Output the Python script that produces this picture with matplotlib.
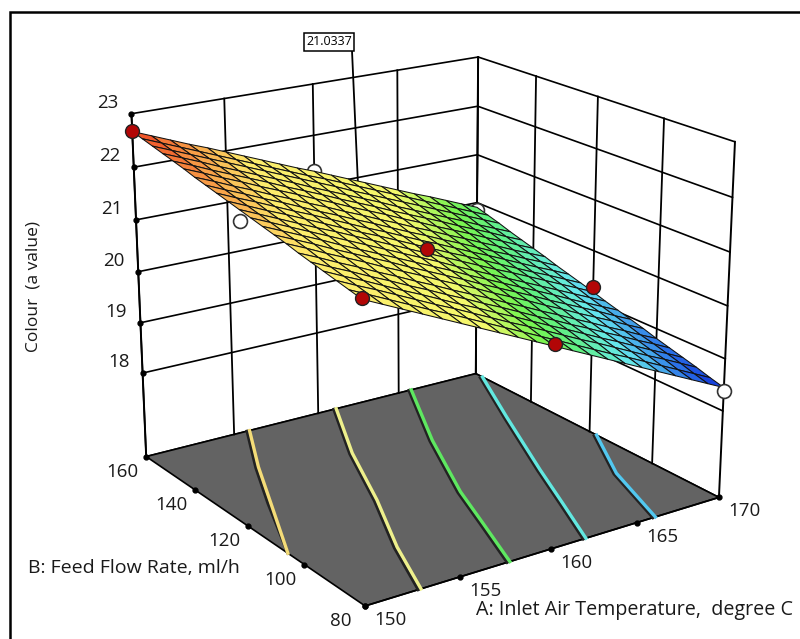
import numpy as np
import matplotlib
matplotlib.use('Agg')
import matplotlib.pyplot as plt
from matplotlib.colors import LinearSegmentedColormap, Normalize
from matplotlib.patches import Rectangle
from mpl_toolkits.mplot3d import proj3d

plt.rcParams['font.family'] = ['Open Sans', 'DejaVu Sans']

# axes ticks
temp_ticks = [150, 155, 160, 165, 170]
flow_ticks = [80, 100, 120, 140, 160]
colour_ticks = [18, 19, 20, 21, 22, 23]
floor_level = 16.306
top_level = 23

# surface grid
temp_grid = list(range(150, 171))
flow_grid = list(range(160, 79, -4))
colour_grid = [
    [22.67, 22.53, 22.39, 22.25, 22.12, 21.98, 21.84, 21.70, 21.56, 21.42, 21.29, 21.15, 21.01, 20.87, 20.73, 20.59, 20.45, 20.32, 20.18, 20.04, 19.90],
    [22.62, 22.48, 22.34, 22.20, 22.06, 21.92, 21.78, 21.64, 21.50, 21.36, 21.23, 21.09, 20.95, 20.81, 20.67, 20.53, 20.39, 20.25, 20.11, 19.97, 19.83],
    [22.57, 22.43, 22.29, 22.15, 22.01, 21.87, 21.73, 21.59, 21.45, 21.31, 21.17, 21.02, 20.88, 20.74, 20.60, 20.46, 20.32, 20.18, 20.04, 19.90, 19.76],
    [22.52, 22.38, 22.24, 22.09, 21.95, 21.81, 21.67, 21.53, 21.38, 21.24, 21.10, 20.96, 20.82, 20.67, 20.53, 20.39, 20.25, 20.11, 19.96, 19.82, 19.68],
    [22.47, 22.33, 22.18, 22.04, 21.90, 21.76, 21.61, 21.47, 21.33, 21.18, 21.04, 20.90, 20.75, 20.61, 20.47, 20.33, 20.18, 20.04, 19.90, 19.75, 19.61],
    [22.42, 22.28, 22.13, 21.99, 21.84, 21.70, 21.56, 21.41, 21.27, 21.12, 20.98, 20.84, 20.69, 20.55, 20.40, 20.26, 20.12, 19.97, 19.83, 19.68, 19.54],
    [22.36, 22.22, 22.07, 21.93, 21.78, 21.64, 21.49, 21.35, 21.20, 21.06, 20.91, 20.77, 20.62, 20.48, 20.33, 20.19, 20.04, 19.90, 19.75, 19.61, 19.47],
    [22.31, 22.16, 22.02, 21.87, 21.73, 21.58, 21.43, 21.29, 21.14, 21.00, 20.85, 20.70, 20.56, 20.41, 20.27, 20.12, 19.97, 19.83, 19.68, 19.54, 19.39],
    [22.26, 22.11, 21.97, 21.82, 21.67, 21.53, 21.38, 21.23, 21.08, 20.94, 20.79, 20.64, 20.50, 20.35, 20.20, 20.06, 19.91, 19.76, 19.61, 19.47, 19.32],
    [22.21, 22.06, 21.91, 21.77, 21.62, 21.47, 21.32, 21.17, 21.03, 20.88, 20.73, 20.58, 20.43, 20.29, 20.14, 19.99, 19.84, 19.69, 19.55, 19.40, 19.25],
    [22.16, 22.01, 21.86, 21.71, 21.56, 21.42, 21.27, 21.12, 20.97, 20.82, 20.67, 20.52, 20.37, 20.22, 20.07, 19.93, 19.78, 19.63, 19.48, 19.33, 19.18],
    [22.11, 21.96, 21.81, 21.66, 21.51, 21.36, 21.21, 21.06, 20.91, 20.76, 20.61, 20.45, 20.30, 20.15, 20.00, 19.85, 19.70, 19.55, 19.40, 19.25, 19.10],
    [22.06, 21.91, 21.76, 21.61, 21.45, 21.30, 21.15, 21.00, 20.85, 20.70, 20.55, 20.39, 20.24, 20.09, 19.94, 19.79, 19.64, 19.48, 19.33, 19.18, 19.03],
    [22.01, 21.86, 21.71, 21.55, 21.40, 21.25, 21.10, 20.94, 20.79, 20.64, 20.49, 20.33, 20.18, 20.03, 19.88, 19.72, 19.57, 19.42, 19.27, 19.11, 18.96],
    [21.96, 21.81, 21.65, 21.50, 21.35, 21.19, 21.04, 20.89, 20.73, 20.58, 20.43, 20.27, 20.12, 19.97, 19.81, 19.66, 19.50, 19.35, 19.20, 19.04, 18.89],
    [21.90, 21.75, 21.59, 21.44, 21.28, 21.13, 20.97, 20.82, 20.66, 20.51, 20.36, 20.20, 20.05, 19.89, 19.74, 19.58, 19.43, 19.27, 19.12, 18.96, 18.81],
    [21.85, 21.69, 21.54, 21.38, 21.23, 21.07, 20.92, 20.76, 20.61, 20.45, 20.30, 20.14, 19.98, 19.83, 19.67, 19.52, 19.36, 19.21, 19.05, 18.90, 18.74],
    [21.80, 21.64, 21.49, 21.33, 21.17, 21.02, 20.86, 20.70, 20.55, 20.39, 20.24, 20.08, 19.92, 19.77, 19.61, 19.45, 19.30, 19.14, 18.98, 18.83, 18.67],
    [21.75, 21.59, 21.44, 21.28, 21.12, 20.96, 20.81, 20.65, 20.49, 20.33, 20.18, 20.02, 19.86, 19.70, 19.55, 19.39, 19.23, 19.07, 18.92, 18.76, 18.60],
    [21.70, 21.54, 21.38, 21.22, 21.06, 20.91, 20.75, 20.59, 20.43, 20.27, 20.11, 19.95, 19.79, 19.63, 19.47, 19.32, 19.16, 19.00, 18.84, 18.68, 18.52],
    [21.65, 21.49, 21.33, 21.17, 21.01, 20.85, 20.69, 20.53, 20.37, 20.21, 20.05, 19.89, 19.73, 19.57, 19.41, 19.25, 19.09, 18.93, 18.77, 18.61, 18.45],
]

# contour curves on the floor
curve1_temp = [155.9, 153.9, 152.2, 150.0]
curve1_flow = [160, 142.8, 126.6, 105.7]
curve2_temp = [161.1, 158.6, 156.5, 154.4, 152.9]
curve2_flow = [160, 138.1, 116.2, 96.6, 80]
curve3_temp = [165.8, 162.8, 160.3, 159.1, 157.7]
curve3_flow = [160, 134.5, 110.3, 96.2, 80]
curve4_temp = [170.0, 167.7, 165.0, 163.5, 162.0]
curve4_flow = [157.5, 136.0, 110.0, 94.9, 80]
curve5_temp = [170.0, 167.8, 166.1]
curve5_flow = [117.7, 100.2, 80]
curve_colours = ['#f4dc78', '#eef08c', '#5ee860', '#62e8e0', '#52c8f0']

# design points
above_temp = [150, 150, 160, 170, 160]
above_flow = [160, 80, 120, 120, 80]
above_colour = [22.67, 21.68, 20.75, 19.28, 20.1]
below_temp = [150, 160, 170, 170]
below_flow = [120, 160, 160, 80]
below_colour = [21.95, 21.3, 19.85, 18.38]

flag_temp, flag_flow, flag_value = 159.45, 140, 21.0337

W, H = 800, 639
fig = plt.figure(figsize=(W / 100, H / 100), dpi=100)
side = 681.6
ax = fig.add_axes([76.75 / W, -17.58 / H, side / W, side / H], projection='3d', computed_zorder=False)
ax.patch.set_alpha(0)
ax.view_init(19.492, -124.551)
ax.set_proj_type('persp', focal_length=0.6412)
ax.set_box_aspect((1, 0.9869, 0.8714))
ax.set_xlim(150, 170)
ax.set_ylim(80, 160)
ax.set_zlim(floor_level, top_level)
ax.set_xticks([])
ax.set_yticks([])
ax.set_zticks([])
ax.grid(False)

ax.xaxis.set_pane_color('white')
ax.yaxis.set_pane_color('white')
ax.zaxis.set_pane_color('#636363')
for axis in (ax.xaxis, ax.yaxis, ax.zaxis):
    axis.pane.set_edgecolor('black')
    axis.pane.set_linewidth(1.2)
    axis.line.set_color('black')
    axis.line.set_linewidth(1.2)

# wall grid
for t in temp_ticks[1:-1]:
    ax.plot([t, t], [160, 160], [floor_level, top_level], color='black', lw=1.3, zorder=1)
for f in flow_ticks[1:-1]:
    ax.plot([170, 170], [f, f], [floor_level, top_level], color='black', lw=1.3, zorder=1)
for c in colour_ticks[:-1]:
    ax.plot([150, 170, 170], [160, 160, 80], [c, c, c], color='black', lw=1.2, zorder=1)
# wall corners
for t, f in [(150, 160), (170, 160), (170, 80)]:
    ax.plot([t, t], [f, f], [floor_level, top_level], color='black', lw=1.4, zorder=1)

# tick dots
ax.plot(temp_ticks, [80] * 5, [floor_level] * 5, ls='none', marker='o', ms=3.5, color='black', zorder=2)
ax.plot([150] * 5, flow_ticks, [floor_level] * 5, ls='none', marker='o', ms=3.5, color='black', zorder=2)
ax.plot([150] * 6, [160] * 6, colour_ticks, ls='none', marker='o', ms=3.5, color='black', zorder=2)

# contours, thin dark edge on the left of each one
curves = [(curve1_temp, curve1_flow), (curve2_temp, curve2_flow), (curve3_temp, curve3_flow),
          (curve4_temp, curve4_flow), (curve5_temp, curve5_flow)]
for (t, f), col in zip(curves, curve_colours):
    level = [floor_level] * len(t)
    ax.plot(np.maximum(np.array(t) - 0.15, 150), f, level, color='#222222', lw=2.2, zorder=2.1)
    ax.plot(t, f, level, color=col, lw=2.4, zorder=2.2)

ax.plot(below_temp[:3], below_flow[:3], below_colour[:3], ls='none', marker='o', ms=10,
        mfc='white', mec='#333333', mew=1.2, zorder=3)

# flag, goes behind the surface
u, v, _ = proj3d.proj_transform(flag_temp, flag_flow, flag_value, ax.get_proj())
ax.annotate('21.0337', xy=(u, v), xytext=(329, H - 41.5), textcoords='figure pixels', ha='center', va='center',
            fontsize=9, color='black', zorder=3.5, annotation_clip=False,
            bbox=dict(boxstyle='square,pad=0.2', fc='white', ec='black', lw=1.1),
            arrowprops=dict(arrowstyle='-', color='black', lw=1.3, relpos=(1, 0), shrinkA=0, shrinkB=0))

X, Y = np.meshgrid(temp_grid, flow_grid)
Z = np.array(colour_grid)
cmap = LinearSegmentedColormap.from_list('rsm', [
    (0.0, '#1030d8'), (0.08, '#2a70e8'), (0.21, '#66e8ee'), (0.33, '#60f080'), (0.40, '#78f450'),
    (0.52, '#f4f86c'), (0.80, '#fdec6c'), (0.90, '#f8a048'), (1.0, '#ee4422')])
ax.plot_surface(X, Y, Z, rcount=21, ccount=21, cmap=cmap, norm=Normalize(18.45, 22.67), shade=False,
                edgecolor='#111111', linewidth=0.75, antialiased=True, zorder=4)

ax.plot(above_temp, above_flow, above_colour, ls='none', marker='o', ms=10,
        mfc='#b20606', mec='#222222', mew=1.0, zorder=5)
ax.plot(below_temp[3:], below_flow[3:], below_colour[3:], ls='none', marker='o', ms=10,
        mfc='white', mec='#333333', mew=1.2, zorder=5)


def tick_label(x, y, z, text, dx, dy):
    u, v, _ = proj3d.proj_transform(x, y, z, ax.get_proj())
    ax.annotate(text, (u, v), xytext=(dx, dy), textcoords='offset pixels', ha='center', va='center',
                fontsize=13.5, color='#1a1a1a', annotation_clip=False)


for t in temp_ticks:
    tick_label(t, 80, floor_level, str(t), 25, -14)
for f in flow_ticks:
    tick_label(150, f, floor_level, str(f), -24, -15)
for c in colour_ticks:
    tick_label(150, 160, c, str(c), -24, 11)

fig.text(134 / W, 1 - 568 / H, 'B: Feed Flow Rate, ml/h', ha='center', va='center', fontsize=14, color='#1a1a1a')
fig.text(634 / W, 1 - 610 / H, 'A: Inlet Air Temperature,  degree C', ha='center', va='center', fontsize=14.2, color='#1a1a1a')
fig.text(33 / W, 1 - 287 / H, 'Colour  (a value)', rotation=90, ha='center', va='center', fontsize=12.5, color='#1a1a1a')

fig.add_artist(Rectangle((10 / W, -0.1), 1.1, 1.1 - 12 / H, transform=fig.transFigure,
                         fill=False, ec='black', lw=1.8))

fig.savefig('out.png', dpi=100)
